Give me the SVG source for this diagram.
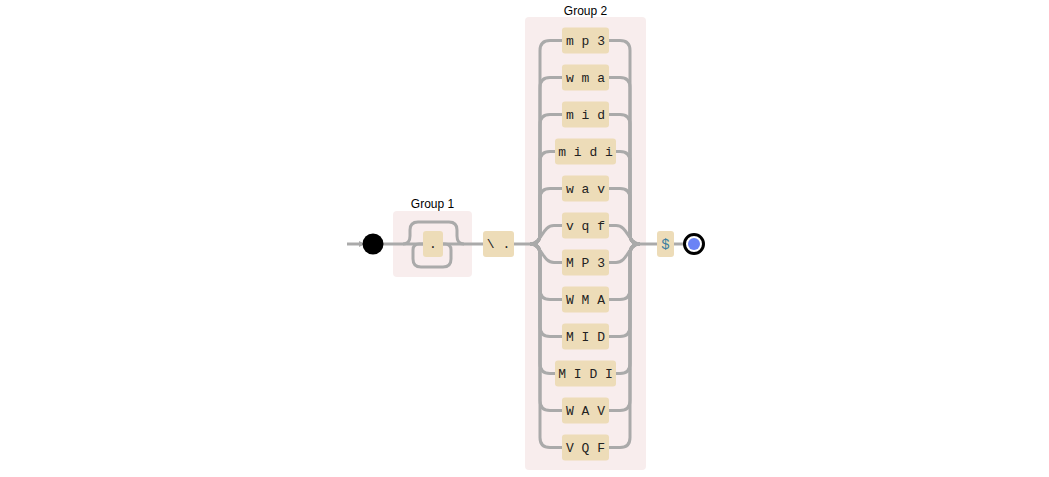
<svg xmlns="http://www.w3.org/2000/svg" width="1049" height="477" viewBox="0 0 1049 477">
<defs>
<style>
.grp{fill:#f8eded;}
.lbl{font-family:"Liberation Sans",Arial,sans-serif;font-size:12px;fill:#000;text-anchor:middle;}
.lit{fill:#eddcb8;}
.lt{font-family:"Liberation Mono","Courier New",monospace;font-size:13px;fill:#222;text-anchor:middle;}
.c{fill:none;stroke:#aaaaaa;stroke-width:3;}
</style>
<marker id="arr" markerWidth="6" markerHeight="6" refX="3" refY="3" orient="auto" markerUnits="userSpaceOnUse">
<path d="M0,0 L6,3 L0,6 Z" fill="#aaaaaa"/>
</marker>
</defs>
<rect width="1049" height="477" fill="#ffffff"/>
<g id="group1-box"><rect class="grp" x="393" y="211" width="79" height="66" rx="4"/><text class="lbl" x="432.5" y="208">Group 1</text></g>
<g id="group2-box"><rect class="grp" x="525" y="17" width="121" height="453" rx="4"/><text class="lbl" x="585.5" y="15">Group 2</text></g>
<g id="connectors">
<path class="c" d="M347,244 H362" marker-end="url(#arr)"/>
<path class="c" d="M383,244 H483"/>
<path class="c" d="M403,244 q7,0 7,-8 v-6 q0,-8 8,-8 H449 q8,0 8,8 v6 q0,8 7,8"/>
<path class="c" d="M442,244 h3 q6,0 6,6 v9 q0,8 -8,8 H421 q-8,0 -8,-8 v-9 q0,-6 6,-6 h4"/>
<path class="c" d="M514,244 H530"/>
<path class="c" d="M640,244 H657"/>
<path class="c" d="M674,244 H685"/>
<path class="c" d="M530,244 q10,0 10,-10 V50.5 q0,-10 10,-10 H562"/>
<path class="c" d="M530,244 q10,0 10,-10 V87.5 q0,-10 10,-10 H562"/>
<path class="c" d="M530,244 q10,0 10,-10 V124.5 q0,-10 10,-10 H562"/>
<path class="c" d="M530,244 q10,0 10,-10 V161.5 q0,-10 10,-10 H555"/>
<path class="c" d="M530,244 q10,0 10,-10 V198.5 q0,-10 10,-10 H562"/>
<path class="c" d="M530,244 c12,0 12,-18.5 24,-18.5 H562"/>
<path class="c" d="M530,244 c12,0 12,18.5 24,18.5 H562"/>
<path class="c" d="M530,244 q10,0 10,10 V289.5 q0,10 10,10 H562"/>
<path class="c" d="M530,244 q10,0 10,10 V326.5 q0,10 10,10 H562"/>
<path class="c" d="M530,244 q10,0 10,10 V363.5 q0,10 10,10 H555"/>
<path class="c" d="M530,244 q10,0 10,10 V400.5 q0,10 10,10 H562"/>
<path class="c" d="M530,244 q10,0 10,10 V437.5 q0,10 10,10 H562"/>
<path class="c" d="M609,40.5 H620 q10,0 10,10 V234 q0,10 10,10"/>
<path class="c" d="M609,77.5 H620 q10,0 10,10 V234 q0,10 10,10"/>
<path class="c" d="M609,114.5 H620 q10,0 10,10 V234 q0,10 10,10"/>
<path class="c" d="M616,151.5 H620 q10,0 10,10 V234 q0,10 10,10"/>
<path class="c" d="M609,188.5 H620 q10,0 10,10 V234 q0,10 10,10"/>
<path class="c" d="M609,225.5 H616 c12,0 12,18.5 24,18.5"/>
<path class="c" d="M609,262.5 H616 c12,0 12,-18.5 24,-18.5"/>
<path class="c" d="M609,299.5 H620 q10,0 10,-10 V254 q0,-10 10,-10"/>
<path class="c" d="M609,336.5 H620 q10,0 10,-10 V254 q0,-10 10,-10"/>
<path class="c" d="M616,373.5 H620 q10,0 10,-10 V254 q0,-10 10,-10"/>
<path class="c" d="M609,410.5 H620 q10,0 10,-10 V254 q0,-10 10,-10"/>
<path class="c" d="M609,447.5 H620 q10,0 10,-10 V254 q0,-10 10,-10"/>
</g>
<g id="start"><circle cx="373" cy="244" r="10.5" fill="#000"/></g>
<g id="lit-dot"><rect class="lit" x="423" y="231" width="20" height="26" rx="3"/><text class="lt" x="433" y="248">.</text></g>
<g id="lit-escdot"><rect class="lit" x="483" y="231" width="31" height="26" rx="3"/><text class="lt" x="498.5" y="248">\ .</text></g>
<g id="alt-mp3"><rect class="lit" x="562" y="27.5" width="47" height="26" rx="3"/><text class="lt" x="585.5" y="45">m p 3</text></g>
<g id="alt-wma"><rect class="lit" x="562" y="64.5" width="47" height="26" rx="3"/><text class="lt" x="585.5" y="82">w m a</text></g>
<g id="alt-mid"><rect class="lit" x="562" y="101.5" width="47" height="26" rx="3"/><text class="lt" x="585.5" y="119">m i d</text></g>
<g id="alt-midi"><rect class="lit" x="555" y="138.5" width="61" height="26" rx="3"/><text class="lt" x="585.5" y="156">m i d i</text></g>
<g id="alt-wav"><rect class="lit" x="562" y="175.5" width="47" height="26" rx="3"/><text class="lt" x="585.5" y="193">w a v</text></g>
<g id="alt-vqf"><rect class="lit" x="562" y="212.5" width="47" height="26" rx="3"/><text class="lt" x="585.5" y="230">v q f</text></g>
<g id="alt-MP3"><rect class="lit" x="562" y="249.5" width="47" height="26" rx="3"/><text class="lt" x="585.5" y="267">M P 3</text></g>
<g id="alt-WMA"><rect class="lit" x="562" y="286.5" width="47" height="26" rx="3"/><text class="lt" x="585.5" y="304">W M A</text></g>
<g id="alt-MID"><rect class="lit" x="562" y="323.5" width="47" height="26" rx="3"/><text class="lt" x="585.5" y="341">M I D</text></g>
<g id="alt-MIDI"><rect class="lit" x="555" y="360.5" width="61" height="26" rx="3"/><text class="lt" x="585.5" y="378">M I D I</text></g>
<g id="alt-WAV"><rect class="lit" x="562" y="397.5" width="47" height="26" rx="3"/><text class="lt" x="585.5" y="415">W A V</text></g>
<g id="alt-VQF"><rect class="lit" x="562" y="434.5" width="47" height="26" rx="3"/><text class="lt" x="585.5" y="452">V Q F</text></g>
<g id="anchor-end"><rect class="lit" x="657" y="231" width="17" height="26" rx="3"/><text x="665.5" y="249" text-anchor="middle" font-family="'Liberation Mono','Courier New',monospace" font-size="14" fill="#3b7ea1">$</text></g>
<g id="end"><circle cx="694" cy="244" r="9.5" fill="#fff" stroke="#000" stroke-width="3"/><circle cx="694" cy="244" r="6" fill="#6b83f5"/></g>
</svg>
